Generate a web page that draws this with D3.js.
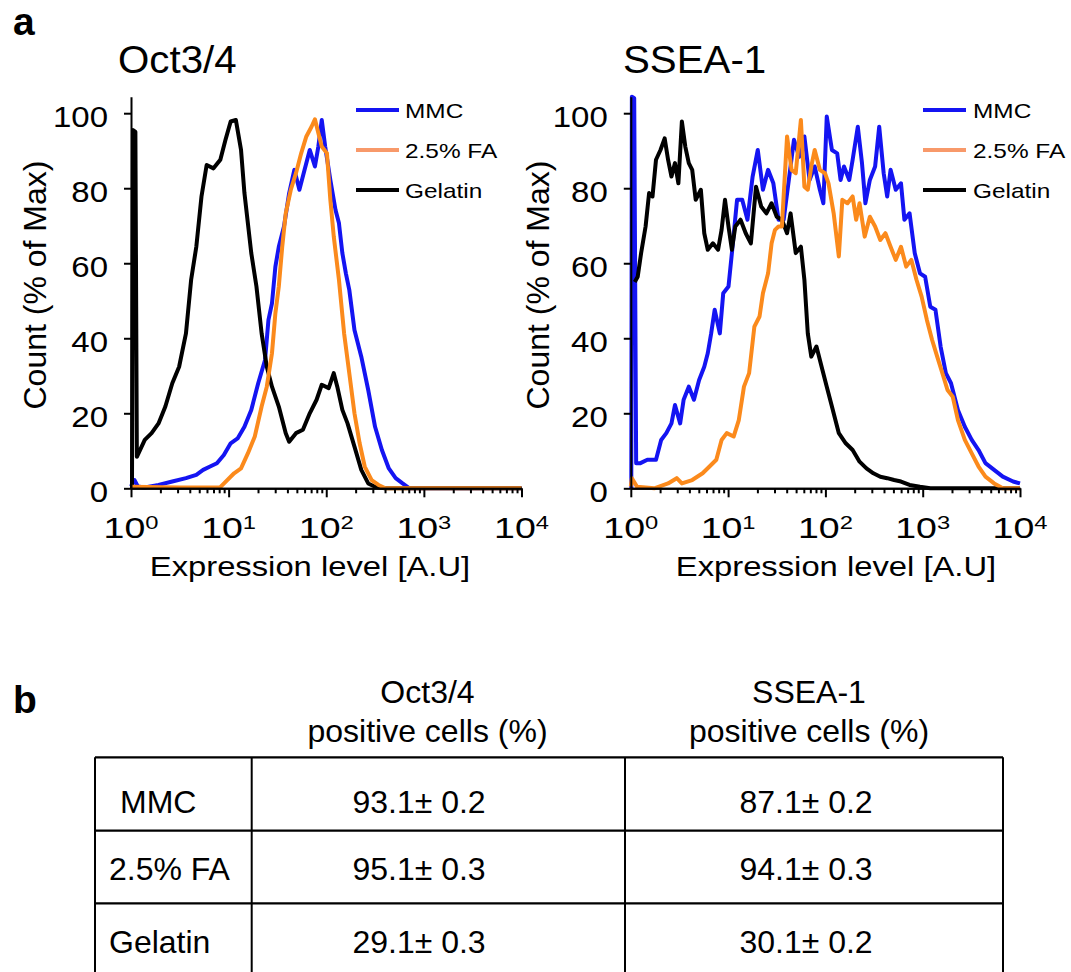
<!DOCTYPE html>
<html>
<head>
<meta charset="utf-8">
<script src="https://cdn.jsdelivr.net/npm/d3@7"></script>
<style>
  body { margin: 0; background: #fff; }
</style>
</head>
<body>
<svg id="fig"></svg>
<script>
/*
    Data
*/
var panelTitles = ["Oct3/4", "SSEA-1"];
var seriesNames = ["MMC", "2.5% FA", "Gelatin"];
var yTicks = [0, 20, 40, 60, 80, 100];
var xDecades = [0, 1, 2, 3, 4];   // 10^0 .. 10^4

// histogram points: [log10(expression), count (% of max)]
var octMMC = [[0,0.5],[0.035,2.2],[0.07,0.5],[0.141,0.2],[0.282,0.9],[0.423,1.8],[0.563,2.7],[0.669,3.6],[0.739,4.9],[0.81,5.8],[0.88,6.7],[0.951,8.9],[1.021,12],[1.092,13.3],[1.162,16.4],[1.232,20.9],[1.303,28],[1.373,34.2],[1.408,44.9],[1.444,49.3],[1.479,59.1],[1.514,64.4],[1.567,69.8],[1.62,78.7],[1.673,84.9],[1.725,79.6],[1.778,84.9],[1.831,90.2],[1.884,85.8],[1.919,91.1],[1.954,98.2],[1.989,91.1],[2.042,82.2],[2.095,74.2],[2.13,70.7],[2.165,62.7],[2.201,57.3],[2.236,52.9],[2.289,42.2],[2.359,35.1],[2.43,26.2],[2.5,16.4],[2.57,10.2],[2.641,5.3],[2.711,2.7],[2.782,1.3],[2.852,0],[4,0]];
var octFA = [[0,0.4],[0.5,0.2],[0.915,0.3],[0.986,2.2],[1.056,4],[1.127,5.3],[1.197,9.3],[1.268,13.8],[1.338,21.8],[1.391,27.1],[1.444,36],[1.479,46.7],[1.514,53.8],[1.549,64.4],[1.585,73.3],[1.637,79.6],[1.69,84],[1.743,89.3],[1.796,93.8],[1.849,96.4],[1.884,98.4],[1.919,94.7],[1.954,91.1],[2.007,89.3],[2.042,76.9],[2.077,67.1],[2.13,55.6],[2.183,41.3],[2.236,30.7],[2.289,20],[2.342,12],[2.394,5.8],[2.465,2.2],[2.535,0.9],[2.606,0],[4,0]];
var octGel = [[0.01,0],[0.02,95.5],[0.045,95],[0.06,8.4],[0.141,12.9],[0.211,14.7],[0.282,17.3],[0.352,21.8],[0.423,28],[0.493,32.4],[0.563,41.3],[0.616,55.6],[0.669,64.4],[0.722,77.8],[0.775,86.2],[0.845,85.3],[0.915,87.6],[0.968,92.9],[1.021,97.8],[1.074,98.2],[1.127,90.2],[1.162,78.7],[1.232,62.7],[1.285,53.8],[1.338,41.3],[1.391,32.4],[1.444,27.1],[1.514,21.8],[1.585,14.7],[1.62,12.4],[1.69,14.7],[1.761,15.6],[1.831,20],[1.901,23.6],[1.954,27.6],[2.025,26.7],[2.077,30.7],[2.113,27.1],[2.165,20.9],[2.218,17.3],[2.289,11.1],[2.359,4.9],[2.43,1.3],[2.5,0.4],[2.6,0],[4,0]];

var sseaMMC = [[0.005,0],[0.011,104.4],[0.035,104],[0.055,6.7],[0.099,6.7],[0.17,7.6],[0.259,7.6],[0.312,12.9],[0.365,14.7],[0.418,17.3],[0.454,22.2],[0.507,17.3],[0.543,23.6],[0.596,27.1],[0.649,23.6],[0.702,28.9],[0.755,32.4],[0.791,36],[0.826,41.3],[0.862,47.6],[0.915,41.3],[0.95,52],[1.004,53.8],[1.039,62.7],[1.092,76.9],[1.145,76.9],[1.199,71.6],[1.252,83.1],[1.305,90.2],[1.358,79.6],[1.411,84.9],[1.465,81.3],[1.518,71.6],[1.571,71.6],[1.624,82.2],[1.677,92.9],[1.73,88.4],[1.784,93.8],[1.837,82.2],[1.89,85.8],[1.943,79.6],[1.979,76],[2.014,99.1],[2.067,90.2],[2.121,89.3],[2.156,82.2],[2.191,85.8],[2.245,82.2],[2.28,87.6],[2.333,96.4],[2.376,86.7],[2.411,76],[2.457,82.2],[2.511,85.8],[2.553,96.4],[2.599,84],[2.635,77.8],[2.67,84.9],[2.723,79.6],[2.777,81.3],[2.812,71.6],[2.865,73.3],[2.918,62.7],[2.972,57.3],[3.025,56.4],[3.078,48.4],[3.131,47.6],[3.184,37.8],[3.238,30.7],[3.291,28],[3.362,20.9],[3.433,16.4],[3.504,12.9],[3.574,10.2],[3.645,6.7],[3.734,4.9],[3.823,3.1],[3.929,1.8],[4,1.3]];
var sseaFA = [[0,0.5],[0.011,2.7],[0.064,0.4],[0.241,0],[0.383,1.3],[0.472,2.7],[0.525,1.3],[0.631,2.2],[0.738,4],[0.809,5.8],[0.879,7.6],[0.933,12.9],[0.986,14.7],[1.057,13.8],[1.11,18.2],[1.163,27.1],[1.216,30.7],[1.27,43.1],[1.323,45.8],[1.358,52],[1.411,57.3],[1.447,65.3],[1.482,68.9],[1.518,69.8],[1.553,69.8],[1.606,93.8],[1.652,84.9],[1.695,84],[1.748,98.2],[1.784,80.4],[1.819,79.6],[1.855,85.8],[1.89,90.2],[1.943,84.9],[1.996,84],[2.032,81.3],[2.085,73.3],[2.138,61.8],[2.174,76.9],[2.227,76],[2.28,77.8],[2.316,71.6],[2.351,76],[2.404,67.1],[2.457,72.4],[2.511,69.8],[2.564,66.2],[2.617,68],[2.67,64.4],[2.723,60.9],[2.777,64.4],[2.83,59.1],[2.883,60.9],[2.936,55.6],[2.989,51.1],[3.043,44.9],[3.096,39.6],[3.149,35.1],[3.202,30.7],[3.255,26.2],[3.309,24.4],[3.362,18.2],[3.433,12.9],[3.504,9.3],[3.574,5.8],[3.645,3.1],[3.734,1.3],[3.823,0],[4,0]];
var sseaGel = [[0.04,55],[0.071,56.4],[0.106,62.7],[0.152,69.8],[0.188,78.7],[0.223,77.8],[0.259,87.6],[0.305,90.2],[0.348,93.3],[0.383,87.6],[0.418,83.1],[0.454,86.7],[0.489,81.3],[0.525,97.8],[0.56,91.1],[0.596,86.7],[0.631,84.9],[0.667,76.9],[0.72,79.6],[0.755,68],[0.791,63.6],[0.844,65.3],[0.897,63.6],[0.933,68.9],[0.968,76.9],[1.004,69.8],[1.039,63.6],[1.074,69.8],[1.128,71.6],[1.181,68],[1.234,65.3],[1.287,80.4],[1.34,75.1],[1.394,73.3],[1.447,76],[1.5,72.4],[1.553,71.6],[1.606,68],[1.642,73.3],[1.695,62.7],[1.748,64.4],[1.784,55.6],[1.819,41.3],[1.855,35.1],[1.908,37.8],[1.961,32.4],[2.014,27.1],[2.067,21.8],[2.138,14.7],[2.209,12],[2.28,10.2],[2.351,7.1],[2.422,5.3],[2.493,4],[2.564,3.1],[2.635,2.7],[2.706,2.2],[2.777,1.8],[2.865,0.9],[2.972,0.4],[3.078,0],[4,0]];

// table b
var tableRows = ["MMC", "2.5% FA", "Gelatin"];
var tableHeads = ["Oct3/4", "SSEA-1"];
var octMean = [93.1, 95.1, 29.1];
var octSd = [0.2, 0.3, 0.3];
var sseaMean = [87.1, 94.1, 30.1];
var sseaSd = [0.2, 0.3, 0.2];

/*
    Setup
*/
var W = 1071, H = 972;
var FONT = "'Liberation Sans', Arial, Helvetica, sans-serif";
var colors = ["#1414f2", "#fb8a1c", "#000000"];
var legendColors = ["#1414f2", "#f8996a", "#000000"];

var svg = d3.select("#fig")
    .attr("width", W)
    .attr("height", H)
    .style("font-family", FONT);

svg.append("rect").attr("width", W).attr("height", H).attr("fill", "#fff");

//text stretched horizontally like the original figure
function stext(g, x, y, str, size, sx, anchor) {
    return g.append("text")
        .attr("transform", "translate(" + x + "," + y + ") scale(" + sx + ",1)")
        .attr("text-anchor", anchor || "start")
        .attr("font-size", size)
        .attr("fill", "#000")
        .text(str);
}

var y = d3.scaleLinear().domain([0, 104.4]).range([488.3, 96.7]);

var panels = [
    { title: panelTitles[0], x0: 131, x1: 521.5, titleX: 118, yLabX: 46, xLabX: 310, legLine: 356, legText: 405,
      series: [octMMC, octFA, octGel] },
    { title: panelTitles[1], x0: 630.8, x1: 1020, titleX: 623, yLabX: 549, xLabX: 836, legLine: 923, legText: 973,
      series: [sseaMMC, sseaFA, sseaGel] }
];

// panel letters
svg.append("text").attr("x", 13).attr("y", 35).attr("font-size", 39).attr("font-weight", "bold").text("a");
svg.append("text").attr("x", 13).attr("y", 713).attr("font-size", 39).attr("font-weight", "bold").text("b");

panels.forEach(function(p) {
    var x = d3.scaleLog().domain([1, 1e4]).range([p.x0, p.x1]);
    var g = svg.append("g");

    var line = d3.line()
        .x(function(d) { return x(Math.pow(10, d[0])); })
        .y(function(d) { return y(d[1]); });

    // curves: blue, black, then orange on top
    [0, 2, 1].forEach(function(i) {
        g.append("path")
            .datum(p.series[i])
            .attr("d", line)
            .attr("fill", "none")
            .attr("stroke", colors[i])
            .attr("stroke-width", 4)
            .attr("stroke-linejoin", "round");
    });

    //X-Axis (minor + major ticks)
    var majors = xDecades.map(function(e) { return Math.pow(10, e); });
    var minors = x.ticks().filter(function(t) { return majors.indexOf(t) < 0; });
    var xg = g.append("g").attr("transform", "translate(0," + y(0) + ")");
    xg.append("g").call(d3.axisBottom(x).tickValues(minors).tickSize(5).tickSizeOuter(0).tickFormat(""));
    xg.append("g").call(d3.axisBottom(x).tickValues(majors).tickSize(9).tickSizeOuter(0).tickFormat(""));

    //Y-Axis
    var yg = g.append("g").attr("transform", "translate(" + p.x0 + ",0)")
        .call(d3.axisLeft(y).tickValues(yTicks).tickSize(7).tickSizeOuter(0));
    yg.selectAll(".tick text")
        .attr("x", -23 / 1.1)
        .attr("dy", "0.44em")
        .attr("transform", "scale(1.1,1)")
        .attr("font-size", 30)
        .attr("font-family", FONT)
        .attr("fill", "#000");

    g.selectAll(".domain, .tick line").attr("stroke", "#000").attr("stroke-width", 2);

    // decade labels 10^n
    xDecades.forEach(function(e) {
        var t = stext(g, x(Math.pow(10, e)), 538, "", 30, 1.25, "middle");
        t.append("tspan").text("10");
        t.append("tspan").attr("font-size", 19).attr("dy", -9.5).text(e);
    });

    // axis titles
    stext(g, p.xLabX, 576, "Expression level [A.U]", 28, 1.17, "middle");
    g.append("text")
        .attr("transform", "translate(" + p.yLabX + ",285) rotate(-90)")
        .attr("text-anchor", "middle")
        .attr("font-size", 32)
        .text("Count (% of Max)");

    // panel title
    stext(g, p.titleX, 73, p.title, 38, 1.06, "start");

    // legend
    seriesNames.forEach(function(name, i) {
        var ly = 110 + 40 * i;
        g.append("line")
            .attr("x1", p.legLine).attr("x2", p.legLine + 43)
            .attr("y1", ly).attr("y2", ly)
            .attr("stroke", legendColors[i]).attr("stroke-width", 4);
        stext(g, p.legText, ly + 7.5, name, 20, 1.22, "start");
    });
});

/*
    Table b
*/
var colX = [95, 251.7, 625, 1003];
var rowY = [757.3, 830.7, 903.3, 976];
var tb = svg.append("g");

rowY.forEach(function(ry) {
    tb.append("line").attr("x1", colX[0]).attr("x2", colX[3]).attr("y1", ry).attr("y2", ry)
        .attr("stroke", "#000").attr("stroke-width", 2.2);
});
colX.forEach(function(cx) {
    tb.append("line").attr("x1", cx).attr("x2", cx).attr("y1", rowY[0]).attr("y2", rowY[3])
        .attr("stroke", "#000").attr("stroke-width", 2);
});

var headX = [427.5, 809];
tableHeads.forEach(function(h, j) {
    tb.append("text").attr("x", headX[j]).attr("y", 703).attr("text-anchor", "middle")
        .attr("font-size", 32).text(h);
    tb.append("text").attr("x", headX[j]).attr("y", 741.7).attr("text-anchor", "middle")
        .attr("font-size", 32).text("positive cells (%)");
});

var fmt = d3.format(".1f");
var rowBase = [813.3, 880, 953.3];
var labelX = [120, 109, 109];
tableRows.forEach(function(r, i) {
    tb.append("text").attr("x", labelX[i]).attr("y", rowBase[i]).attr("font-size", 32).text(r);
    tb.append("text").attr("x", 419).attr("y", rowBase[i]).attr("text-anchor", "middle")
        .attr("font-size", 32).text(fmt(octMean[i]) + "\u00b1 " + fmt(octSd[i]));
    tb.append("text").attr("x", 806).attr("y", rowBase[i]).attr("text-anchor", "middle")
        .attr("font-size", 32).text(fmt(sseaMean[i]) + "\u00b1 " + fmt(sseaSd[i]));
});
</script>
</body>
</html>
